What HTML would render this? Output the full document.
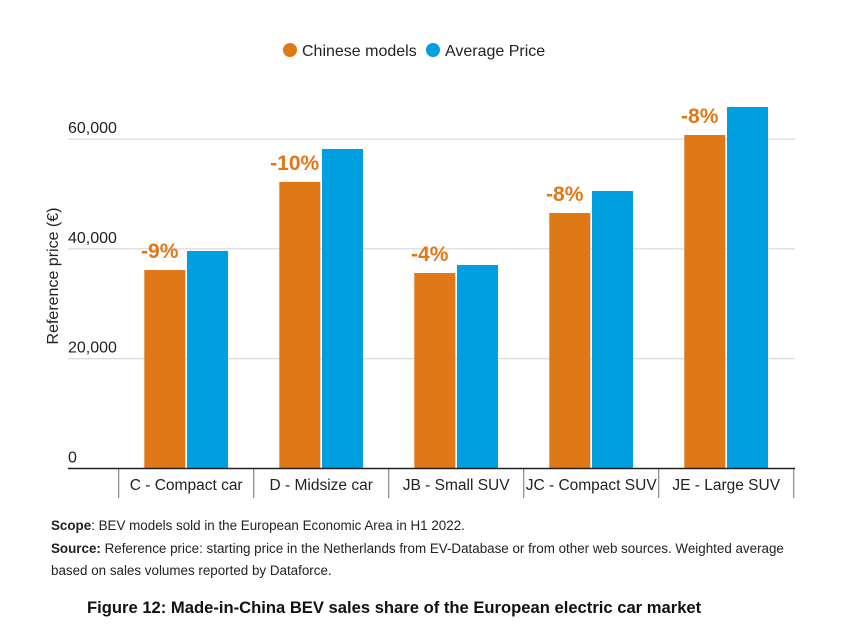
<!DOCTYPE html>
<html><head><meta charset="utf-8"><style>
body{margin:0;background:#fff;font-family:"Liberation Sans",sans-serif;}
svg text{font-family:"Liberation Sans",sans-serif;}
</style></head><body>
<svg width="842" height="627" id="c">
<g>
<circle cx="290" cy="50" r="7" fill="#E07818"/>
<text x="302" y="56" font-size="16" fill="#222">Chinese models</text>
<circle cx="433" cy="50" r="7" fill="#00A0E0"/>
<text x="445" y="56" font-size="16" fill="#222">Average Price</text>
</g>
<text transform="translate(58,276) rotate(-90)" text-anchor="middle" font-size="16" fill="#222">Reference price (€)</text>
<g id="grid"></g><g id="bars"></g>
<text x="51" y="530" font-size="13.4" fill="#222"><tspan font-weight="bold">Scope</tspan>: BEV models sold in the European Economic Area in H1 2022.</text>
<text x="51" y="553" font-size="13.4" fill="#222"><tspan font-weight="bold">Source:</tspan> Reference price: starting price in the Netherlands from EV-Database or from other web sources. Weighted average</text>
<text x="51" y="575" font-size="13.4" fill="#222">based on sales volumes reported by Dataforce.</text>
<text x="87" y="613" font-size="16.6" font-weight="bold" fill="#111">Figure 12: Made-in-China BEV sales share of the European electric car market</text>
</svg>
<script>
const categories=["C - Compact car","D - Midsize car","JB - Small SUV","JC - Compact SUV","JE - Large SUV"];
const chinese=[36150,52190,35610,46540,60750];
const average=[39620,58200,37070,50550,65850];
const diffLabels=["-9%","-10%","-4%","-8%","-8%"];
const yTicks=[0,20000,40000,60000];
const NS="http://www.w3.org/2000/svg";
const y=v=>468.5-v*109.8/20000;
const bandX=i=>118.7+i*135;
function mk(t,a,p){const e=document.createElementNS(NS,t);for(const k in a)e.setAttribute(k,a[k]);if(p)p.appendChild(e);return e;}
const grid=document.getElementById('grid'),bars=document.getElementById('bars');
yTicks.forEach(v=>{
 if(v>0){const l=mk('line',{x1:68,x2:795,y1:y(v),y2:y(v),stroke:'#d0d0d0','stroke-width':1},grid);
 
 }
 const t=mk('text',{x:68,y:y(v)-6,'font-size':16,fill:'#222'},grid);
 t.textContent=v.toLocaleString('en-US');
 
 
});
categories.forEach((c,i)=>{
 const x0=bandX(i);
 const b1=mk('rect',{x:x0+25.6,y:y(chinese[i]),width:41,height:y(0)-y(chinese[i]),fill:'#E07818'},bars);
 
 
 const b2=mk('rect',{x:x0+68.3,y:y(average[i]),width:41,height:y(0)-y(average[i]),fill:'#00A0E0'},bars);
 
 
 const p=mk('text',{x:x0+41,y:y(chinese[i])-12,'text-anchor':'middle','font-size':21,'font-weight':'bold',fill:'#E07818'},bars);
 p.textContent=diffLabels[i];
 
 
 const s=mk('line',{x1:x0,x2:x0,y1:468,y2:498,stroke:'#888','stroke-width':1.2},bars);
 
 
 const t=mk('text',{x:x0+67.5,y:490,'text-anchor':'middle','font-size':15.5,fill:'#222'},bars);
 t.textContent=c;
 
 
});
const s=mk('line',{x1:bandX(5),x2:bandX(5),y1:468,y2:498,stroke:'#888','stroke-width':1.2},bars);


const ax=mk('line',{x1:68,x2:795,y1:468.5,y2:468.5,stroke:'#222','stroke-width':1.5},bars);


</script>
</body></html>
